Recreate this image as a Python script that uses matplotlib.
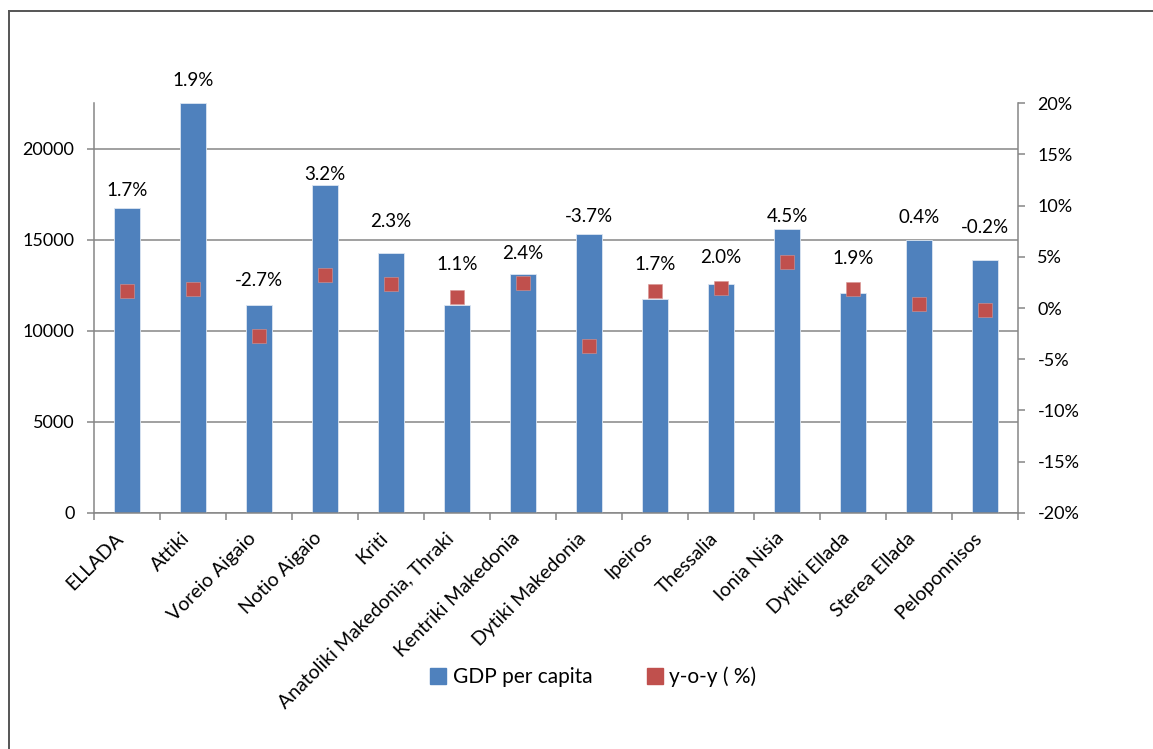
import numpy as np
import matplotlib
matplotlib.use('Agg')
import matplotlib.pyplot as plt
from matplotlib.lines import Line2D
from matplotlib.ticker import FuncFormatter

plt.rcParams['font.family'] = ['Lato', 'DejaVu Sans']

# --- data ---
regions = ['ELLADA', 'Attiki', 'Voreio Aigaio', 'Notio Aigaio', 'Kriti',
           'Anatoliki Makedonia, Thraki', 'Kentriki Makedonia', 'Dytiki Makedonia',
           'Ipeiros', 'Thessalia', 'Ionia Nisia', 'Dytiki Ellada', 'Sterea Ellada',
           'Peloponnisos']
gdp_per_capita = [16720, 22500, 11410, 18020, 14270, 11410, 13120, 15310,
                  11760, 12570, 15570, 12070, 14990, 13900]
yoy_pct = [1.7, 1.9, -2.7, 3.2, 2.3, 1.1, 2.4, -3.7, 1.7, 2.0, 4.5, 1.9, 0.4, -0.2]

# label offsets above bar top (pixels), as placed in the original
label_offset_px = [18, 23, 25, 10, 32, 41, 20, 18, 34, 26, 13, 35, 22, 32]

BLUE = '#4F81BD'
RED = '#C0504D'
GRID = '#868686'
FS = 13      # numbers
FS_TXT = 14  # category names, legend

W, H = 1153, 749
fig = plt.figure(figsize=(W / 100, H / 100), dpi=100)
ax = fig.add_axes([94 / W, 1 - 512.7 / H, 924 / W, 409.4 / H])
ax2 = ax.twinx()

x = np.arange(len(regions))
bars = ax.bar(x, gdp_per_capita, width=0.4, color=BLUE, edgecolor='#DCE6F2',
              linewidth=0.6, zorder=2, label='GDP per capita')
ax.set_ylim(0, 22500)
ax.set_xlim(-0.5, len(regions) - 0.5)
ax.set_yticks([0, 5000, 10000, 15000, 20000])
ax.set_axisbelow(True)
ax.yaxis.grid(True, color=GRID, linewidth=1.1)

for i, b in enumerate(bars):
    ax.annotate(f'{yoy_pct[i]:.1f}%', (b.get_x() + b.get_width() / 2, b.get_height()),
                xytext=(0, label_offset_px[i]), textcoords='offset pixels',
                ha='center', va='center', fontsize=FS + 0.5, annotation_clip=False)

ax2.plot(x, yoy_pct, linestyle='none', marker='s', markersize=10.5,
         color=RED, markeredgecolor='#D99694', markeredgewidth=0.4,
         label='y-o-y ( %)', zorder=3)
ax2.set_ylim(-20, 20)
ax2.set_yticks(np.arange(-20, 21, 5))
ax2.yaxis.set_major_formatter(FuncFormatter(lambda v, p: f'{v:.0f}%'))

# spines and ticks
for a in (ax, ax2):
    for s in a.spines.values():
        s.set_color(GRID)
        s.set_linewidth(1.1)
    a.spines['top'].set_visible(False)
ax.spines['right'].set_visible(False)
ax2.spines['left'].set_visible(False)
ax2.spines['bottom'].set_visible(False)

ax.tick_params(axis='y', direction='out', length=5, width=1.1, color=GRID,
               labelsize=FS, pad=9)
ax2.tick_params(axis='y', direction='out', length=5, width=1.1, color=GRID,
                labelsize=FS, pad=9)

ax.set_xticks(x)
ax.set_xticklabels(regions, rotation=45, ha='right', fontsize=FS_TXT)
ax.set_xticks(np.arange(-0.5, len(regions), 1), minor=True)
ax.tick_params(axis='x', which='major', length=0, pad=12)
ax.tick_params(axis='x', which='minor', direction='out', length=5, width=1.1, color=GRID)

# legend
h1, l1 = ax.get_legend_handles_labels()
h2, l2 = ax2.get_legend_handles_labels()
handles = [Line2D([], [], linestyle='none', marker='s', markersize=11, color=BLUE),
           Line2D([], [], linestyle='none', marker='s', markersize=11, color=RED)]
fig.legend(handles, l1 + l2, loc='center', bbox_to_anchor=(593 / W, 1 - 677 / H),
           ncol=2, frameon=False, fontsize=FS_TXT + 1, handlelength=0.8,
           handletextpad=0.3, columnspacing=2.6)

# outer chart border (left and top edges visible)
fig.add_artist(Line2D([9 / W, 9 / W], [0, 1 - 11 / H], color='#555555', linewidth=1.4))
fig.add_artist(Line2D([9 / W, 1], [1 - 11 / H, 1 - 11 / H], color='#555555', linewidth=1.4))

fig.savefig('out.png', dpi=100)
